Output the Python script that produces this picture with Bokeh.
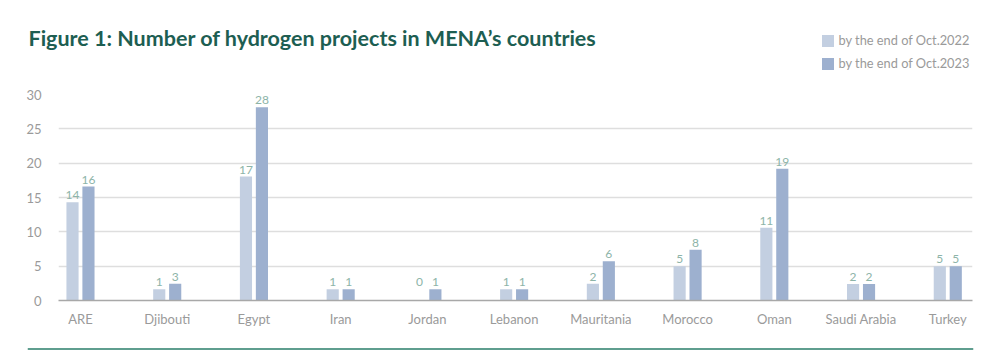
import numpy as np
from bokeh.plotting import figure
from bokeh.layouts import column
from bokeh.models import (ColumnDataSource, Label, Legend, LegendItem, FixedTicker,
                          Range1d, Span)
from bokeh.embed import file_html
from bokeh.resources import INLINE
from bokeh.core.properties import value

countries = ["ARE", "Djibouti", "Egypt", "Iran", "Jordan", "Lebanon", "Mauritania",
             "Morocco", "Oman", "Saudi Arabia", "Turkey"]
# bar heights as drawn in the picture
bars_2022 = [14.3, 1.65, 18.05, 1.65, 0.0, 1.65, 2.45, 5.0, 10.6, 2.4, 5.0]
bars_2023 = [16.6, 2.45, 28.15, 1.65, 1.65, 1.65, 5.7, 7.4, 19.2, 2.4, 5.0]
# printed value labels
labels_2022 = ["14", "1", "17", "1", "0", "1", "2", "5", "11", "2", "5"]
labels_2023 = ["16", "3", "28", "1", "1", "1", "6", "8", "19", "2", "5"]
y_ticks = [0, 5, 10, 15, 20, 25, 30]
series_names = ["by the end of Oct.2022", "by the end of Oct.2023"]
title_text = "Figure 1: Number of hydrogen projects in MENA\u2019s countries"

C22 = "#c3cfe1"
C23 = "#9db0cf"
LBL = "#8db4a8"
GRAY = "#9a9a9a"
TITLE_C = "#1d5e52"
RULE_C = "#5f9e8f"
FONT = "Lato"
W = 998


def bare(fig):
    fig.axis.visible = False
    fig.grid.grid_line_color = None
    fig.outline_line_color = None
    fig.background_fill_color = "white"
    fig.border_fill_color = "white"
    return fig


# ---------- header: title + legend ----------
HH = 80
head = bare(figure(width=W, height=HH, output_backend="svg", toolbar_location=None,
                   x_range=Range1d(0, W), y_range=Range1d(0, HH),
                   min_border=0, frame_align=False))
head.add_layout(Label(x=28, y=HH - 37, text=title_text, text_font=FONT,
                      text_font_style="bold", text_font_size="21.5px",
                      text_color=TITLE_C, text_baseline="middle"))
# legend proxies: zero-height bars, nothing visible is drawn
h22 = head.vbar(x=[-100], top=[0], bottom=[0], width=1, color=C22, line_color=None)
h23 = head.vbar(x=[-100], top=[0], bottom=[0], width=1, color=C23, line_color=None)
legend = Legend(items=[LegendItem(label=series_names[0], renderers=[h22]),
                       LegendItem(label=series_names[1], renderers=[h23])],
                location=(819.5, 9), orientation="vertical",
                glyph_width=15, glyph_height=15, label_height=12,
                label_standoff=4, spacing=7, padding=0, margin=0,
                border_line_color=None, background_fill_alpha=0,
                label_text_font=FONT, label_text_font_size="12.8px",
                label_text_color=GRAY)
head.add_layout(legend, "center")

# ---------- main chart ----------
x = np.arange(len(countries))
off = 0.092
w = 0.14
b22 = np.array(bars_2022)
b23 = np.array(bars_2023)
ly22 = np.where(b22 > 0, b22, b23)
ly23 = np.where(b23 > 0, b23, b22)
src22 = ColumnDataSource(dict(x=x - off, top=b22, ly=ly22, t=labels_2022))
src23 = ColumnDataSource(dict(x=x + off, top=b23, ly=ly23, t=labels_2023))

MH = 260
p = figure(width=W, height=MH, output_backend="svg", toolbar_location=None,
           x_range=Range1d(-0.2535, 10.285), y_range=Range1d(0, 30),
           min_border_left=58, min_border_right=26, min_border_top=14,
           min_border_bottom=40)
p.outline_line_color = None
p.background_fill_color = "white"
p.border_fill_color = "white"

p.vbar(x="x", top="top", width=w, source=src22, color=C22, line_color=None)
p.vbar(x="x", top="top", width=w, source=src23, color=C23, line_color=None)
for src in (src22, src23):
    p.text(x="x", y="ly", text="t", source=src, text_align="center",
           text_baseline="bottom", y_offset=-3, text_color=LBL,
           text_font=value(FONT), text_font_size="12px")

p.xaxis.ticker = FixedTicker(ticks=list(x))
p.xaxis.major_label_overrides = {int(i): c for i, c in zip(x, countries)}
p.xaxis.major_tick_line_color = None
p.xaxis.minor_tick_line_color = None
p.xaxis.axis_line_color = "#a8a8a8"
p.xaxis.axis_line_width = 1.5
p.xaxis.major_label_text_color = GRAY
p.xaxis.major_label_text_font = FONT
p.xaxis.major_label_text_font_size = "13px"
p.xaxis.major_label_standoff = 4

p.yaxis.ticker = FixedTicker(ticks=y_ticks)
p.yaxis.axis_line_color = None
p.yaxis.major_tick_line_color = None
p.yaxis.minor_tick_line_color = None
p.yaxis.major_label_text_color = GRAY
p.yaxis.major_label_text_font = FONT
p.yaxis.major_label_text_font_size = "13px"
p.yaxis.major_label_standoff = 11

p.xgrid.grid_line_color = None
p.ygrid.grid_line_color = "#dedede"
p.ygrid.grid_line_width = 1.5

# ---------- footer rule ----------
FH = 362 - HH - MH
foot = bare(figure(width=W, height=FH, output_backend="svg", toolbar_location=None,
                   x_range=Range1d(0, 1), y_range=Range1d(0, FH),
                   min_border_left=27, min_border_right=25, min_border_top=0,
                   min_border_bottom=0, frame_align=False))
foot.add_layout(Span(location=FH - 8.5, dimension="width", line_color=RULE_C,
                     line_width=2))

layout = column(head, p, foot, spacing=0)
open("out.html", "w").write(file_html(layout, INLINE))
